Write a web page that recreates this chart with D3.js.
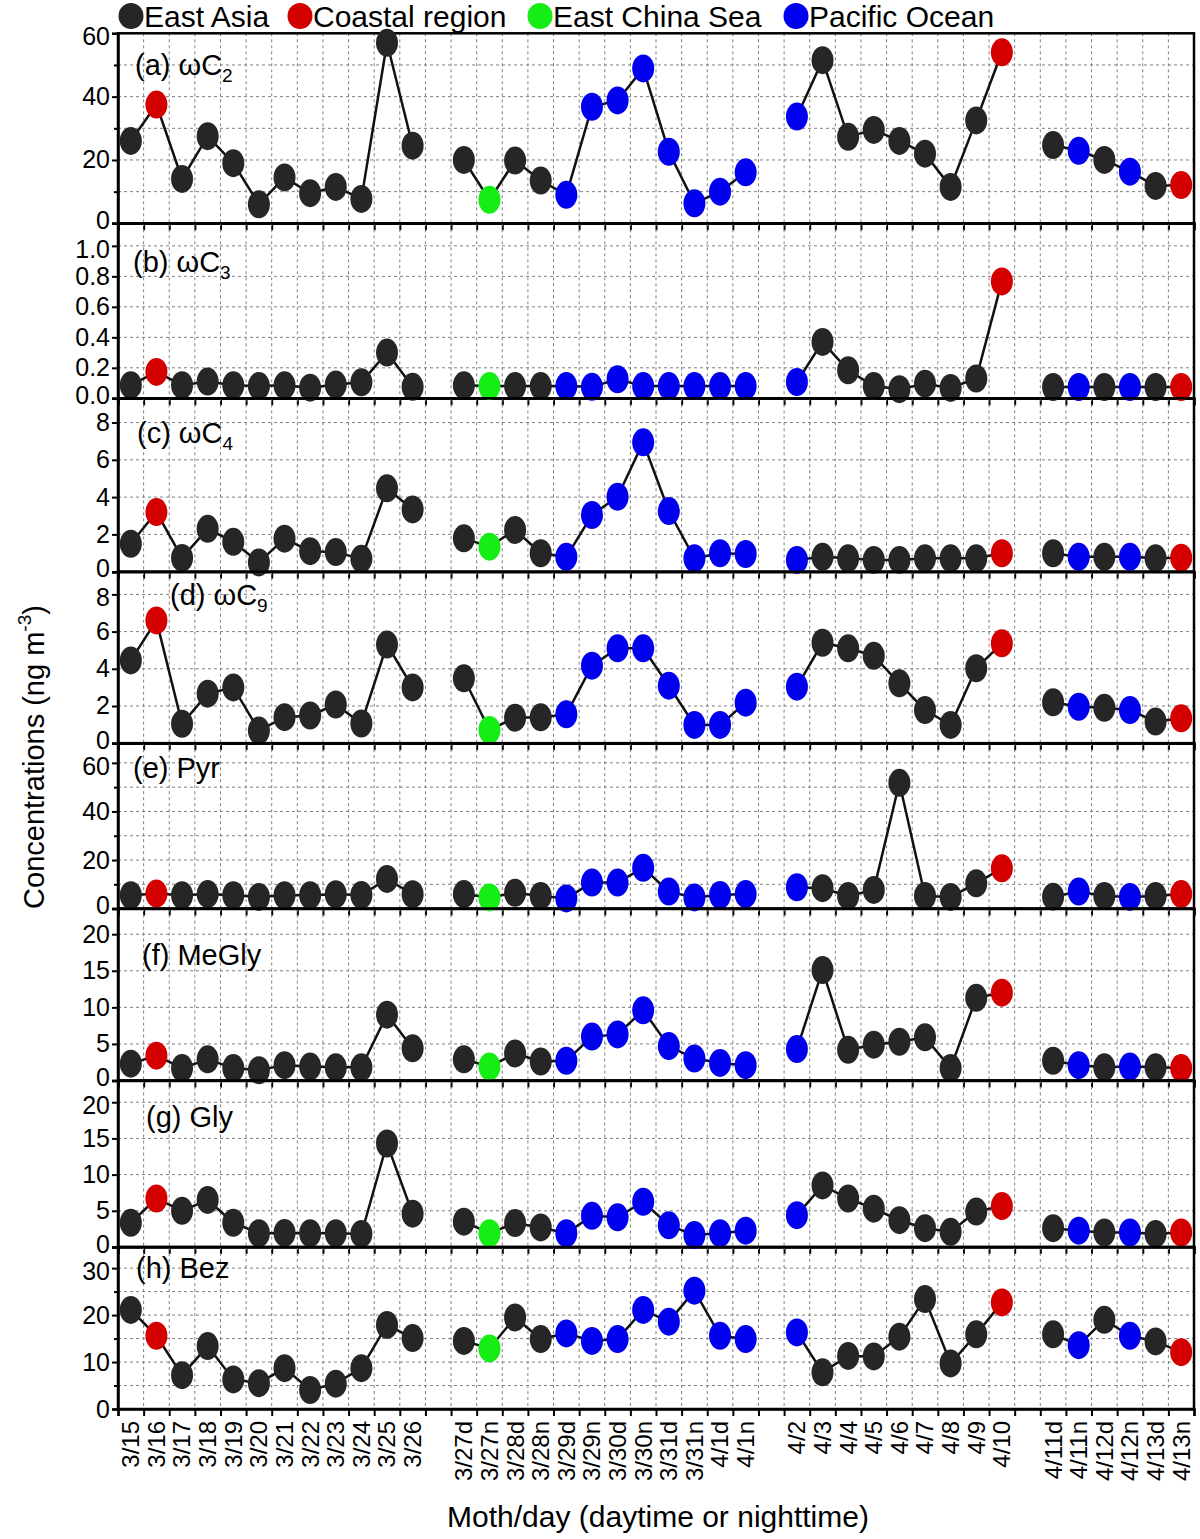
<!DOCTYPE html>
<html><head><meta charset="utf-8">
<script src="https://cdn.jsdelivr.net/npm/d3@7/dist/d3.min.js"></script>
<style>
body{margin:0;background:#fff}
svg{display:block}
text{font-family:"Liberation Sans",Arial,sans-serif;fill:#000}
</style>
</head><body>
<svg id="chart" width="1200" height="1539"></svg>
<script>
// ---------------- DATA ----------------
const dateGroups = [
  ["3/15","3/16","3/17","3/18","3/19","3/20","3/21","3/22","3/23","3/24","3/25","3/26"],
  ["3/27d","3/27n","3/28d","3/28n","3/29d","3/29n","3/30d","3/30n","3/31d","3/31n","4/1d","4/1n"],
  ["4/2","4/3","4/4","4/5","4/6","4/7","4/8","4/9","4/10"],
  ["4/11d","4/11n","4/12d","4/12n","4/13d","4/13n"]
];
// E = East Asia, C = Coastal region, S = East China Sea, P = Pacific Ocean
const regions = [
  "E","C","E","E","E","E","E","E","E","E","E","E",
  "E","S","E","E","P","P","P","P","P","P","P","P",
  "P","E","E","E","E","E","E","E","C",
  "E","P","E","P","E","C"
];
const legendNames = ["East Asia","Coastal region","East China Sea","Pacific Ocean"];
const legendKeys = ["E","C","S","P"];

const wC2 = [26,37.5,14,27.5,19,6,14.5,9.5,11.5,7.7,57,24.5,
             20,7.4,19.8,13.5,9,36.8,38.8,48.9,22.6,6.3,10,16.1,
             33.7,51.5,27.3,29.5,26,22,11.5,32.5,54,
             24.7,22.9,20,16.3,11.8,12.1];
const wC3 = [0.086,0.173,0.086,0.11,0.085,0.08,0.085,0.07,0.09,0.105,0.30,0.075,
             0.085,0.08,0.08,0.08,0.08,0.075,0.125,0.08,0.08,0.08,0.08,0.08,
             0.107,0.37,0.184,0.08,0.06,0.096,0.068,0.13,0.767,
             0.074,0.074,0.074,0.074,0.074,0.074];
const wC4 = [1.5,3.2,0.74,2.3,1.6,0.5,1.77,1.1,1.05,0.69,4.47,3.34,
             1.79,1.34,2.24,0.99,0.8,3.04,4.02,6.94,3.25,0.72,0.99,0.95,
             0.63,0.8,0.72,0.63,0.63,0.72,0.72,0.72,0.99,
             0.99,0.8,0.8,0.8,0.72,0.75];
const wC9 = [4.45,6.6,1.04,2.66,3.0,0.68,1.4,1.49,2.08,1.06,5.3,3.0,
             3.49,0.71,1.37,1.39,1.55,4.17,5.1,5.1,3.09,0.98,0.98,2.18,
             3.04,5.4,5.1,4.7,3.22,1.78,0.98,4.03,5.37,
             2.2,1.96,1.9,1.78,1.16,1.34];
const Pyr = [5.5,6.2,5.5,6.0,5.5,4.8,5.5,5.5,5.9,5.6,12.2,5.9,
             6.0,4.6,6.5,5.2,4.2,10.7,10.7,16.8,7.0,4.6,5.6,6.0,
             8.8,8.4,5.2,7.7,51.8,5.2,4.8,10.4,16.6,
             4.9,7.0,5.2,4.8,5.2,6.0];
const MeGly = [2.3,3.4,1.7,2.9,1.7,1.4,2.1,1.9,1.8,1.8,9.0,4.4,
               2.9,1.9,3.7,2.6,2.7,6.0,6.3,9.6,4.7,3.0,2.4,2.1,
               4.3,15.1,4.2,4.9,5.3,5.9,1.7,11.3,12.0,
               2.7,2.1,1.8,1.9,1.8,1.7];
const Gly = [3.35,6.7,5.0,6.5,3.35,1.9,1.95,1.9,1.9,1.8,14.3,4.6,
             3.5,1.9,3.3,2.7,1.9,4.3,4.1,6.25,3.0,1.65,1.9,2.25,
             4.4,8.5,6.7,5.3,3.7,2.6,2.1,4.9,5.65,
             2.6,2.25,2.0,2.0,1.8,2.0];
const Bez = [21.1,15.6,7.2,13.4,6.3,5.5,8.7,4.05,5.4,8.7,17.9,15.1,
             14.5,12.9,19.5,14.9,16.1,14.5,14.9,21.1,18.6,25.2,15.6,14.9,
             16.3,7.8,11.3,11.2,15.4,23.4,9.7,15.9,22.7,
             15.9,13.6,19.0,15.6,14.4,12.1];

const panelLabels = [["(a) ωC","2"],["(b) ωC","3"],["(c) ωC","4"],["(d) ωC","9"],
                     ["(e) Pyr",""],["(f) MeGly",""],["(g) Gly",""],["(h) Bez",""]];
const panelSeries = [wC2,wC3,wC4,wC9,Pyr,MeGly,Gly,Bez];
const yMax      = [60,1.148,9.3,9.22,68.1,23.5,23.0,34.5];
const majorTicks = [[0,20,40,60],[0,0.2,0.4,0.6,0.8,1.0],[0,2,4,6,8],[0,2,4,6,8],
                    [0,20,40,60],[0,5,10,15,20],[0,5,10,15,20],[0,10,20,30]];
const minorTicks = [[10,30,50],[],[],[],[10,30,50],[],[],[5,15,25]];
const gridStep  = [10,0.2,2,2,10,5,5,5];
const tickFmt   = [null,".1f",null,null,null,null,null,null];

// ---------------- LAYOUT ----------------
const colors = {E:"#262626",C:"#d40000",S:"#14ee14",P:"#0000ee"};
const left = 118, right = 1194;
const panelEdges = [33.3,223.3,398.3,571.7,743.2,908.6,1080.5,1247,1409];
const tickFont = 25;

const svg = d3.select("#chart");

// build slot index (one empty slot between groups)
const dates = [], slot = [], groupIdx = [];
let s = 0;
dateGroups.forEach((g,gi)=>{ g.forEach(d=>{dates.push(d); slot.push(s); groupIdx.push(gi); s++;}); s++; });
const nSlots = s - 1;
const x = d3.scaleLinear().domain([-0.5, nSlots - 0.5]).range([left, right]);
const boundaries = d3.range(0, nSlots + 1).map(k => k - 0.5);

panelSeries.forEach((vals, p) => {
  const top = panelEdges[p], bot = panelEdges[p+1];
  const y = d3.scaleLinear().domain([0, yMax[p]]).range([bot, top]);
  const g = svg.append("g");

  // vertical grid
  g.selectAll(".vg").data(boundaries.slice(1, -1)).join("line")
    .attr("x1", d=>x(d)).attr("x2", d=>x(d)).attr("y1", top).attr("y2", bot)
    .attr("stroke","#808080").attr("stroke-width",1).attr("stroke-dasharray","3,3");
  // horizontal grid
  const hg = d3.range(gridStep[p], yMax[p] - 1e-6, gridStep[p]);
  g.selectAll(".hg").data(hg).join("line")
    .attr("x1", left).attr("x2", right).attr("y1", d=>y(d)).attr("y2", d=>y(d))
    .attr("stroke","#808080").attr("stroke-width",1).attr("stroke-dasharray","3,3");

  // frame
  g.append("rect").attr("x",left).attr("y",top).attr("width",right-left).attr("height",bot-top)
    .attr("fill","none").attr("stroke","#000").attr("stroke-width",2.5);

  // y axis
  const fmt = tickFmt[p] ? d3.format(tickFmt[p]) : d3.format("d");
  const ya = g.append("g").attr("transform",`translate(${left},0)`)
    .call(d3.axisLeft(y).tickValues(majorTicks[p]).tickSize(6).tickPadding(2).tickFormat(fmt));
  ya.select(".domain").attr("stroke-width",2.5);
  ya.selectAll(".tick line").attr("stroke-width",2);
  ya.selectAll(".tick text").attr("font-size",tickFont).attr("font-family","Liberation Sans, Arial, sans-serif")
    .attr("dy", d => {
      // nudge labels that sit right at a panel seam so neighbouring panels' labels don't collide
      if (d === 0 && p < panelSeries.length - 1) return "0.2em";
      if (y(d) - top < 24) return "0.45em";
      return "0.32em";
    });
  if (minorTicks[p].length) {
    const ym = g.append("g").attr("transform",`translate(${left},0)`)
      .call(d3.axisLeft(y).tickValues(minorTicks[p]).tickSize(4).tickFormat(""));
    ym.select(".domain").remove();
    ym.selectAll(".tick line").attr("stroke-width",2);
  }
  // x axis ticks
  const xa = g.append("g").attr("transform",`translate(0,${bot})`)
    .call(d3.axisBottom(x).tickValues(boundaries).tickSize(7).tickFormat(""));
  xa.select(".domain").attr("stroke-width",2.5);
  xa.selectAll(".tick line").attr("stroke-width",2);

  // lines per group
  const line = d3.line().x(i=>x(slot[i])).y(i=>y(vals[i]));
  dateGroups.forEach((gd, gi) => {
    const idx = d3.range(dates.length).filter(i => groupIdx[i] === gi);
    g.append("path").attr("d", line(idx)).attr("fill","none")
      .attr("stroke","#111").attr("stroke-width",2.5);
  });
  // markers
  g.selectAll(".mk").data(vals).join("ellipse")
    .attr("cx",(d,i)=>x(slot[i])).attr("cy",d=>y(d))
    .attr("rx",11).attr("ry",14)
    .attr("fill",(d,i)=>colors[regions[i]]);
});

// panel labels
const labelPos = [[135,75],[133,272],[137,443],[170,605],[133,778],[142,965],[146,1127],[136,1278]];
panelLabels.forEach((lb,p)=>{
  const t = svg.append("text").attr("x",labelPos[p][0]).attr("y",labelPos[p][1]).attr("font-size",29);
  t.append("tspan").text(lb[0]);
  if (lb[1]) t.append("tspan").attr("font-size",19).attr("dy",7).text(lb[1]);
});

// x tick labels
const lastBot = panelEdges[panelEdges.length-1];
svg.selectAll(".xl").data(dates).join("text")
  .attr("transform",(d,i)=>`translate(${x(slot[i])},${lastBot+12}) rotate(-90)`)
  .attr("text-anchor","end").attr("dy","0.35em").attr("font-size",24).text(d=>d);

// axis titles
svg.append("text").attr("x",658).attr("y",1527).attr("text-anchor","middle")
  .attr("font-size",30).text("Moth/day (daytime or nighttime)");
const yt = svg.append("text").attr("transform","translate(44,757) rotate(-90)")
  .attr("text-anchor","middle").attr("font-size",29);
yt.append("tspan").text("Concentrations (ng m");
yt.append("tspan").attr("font-size",19).attr("dy",-13).text("-3");
yt.append("tspan").attr("dy",13).text(")");

// legend
const legX = [131,300,540,796];
legendKeys.forEach((k,i)=>{
  svg.append("ellipse").attr("cx",legX[i]).attr("cy",16).attr("rx",12.5).attr("ry",13)
    .attr("fill",colors[k]);
  svg.append("text").attr("x",legX[i]+13).attr("y",27).attr("font-size",30).text(legendNames[i]);
});
</script>
</body></html>
